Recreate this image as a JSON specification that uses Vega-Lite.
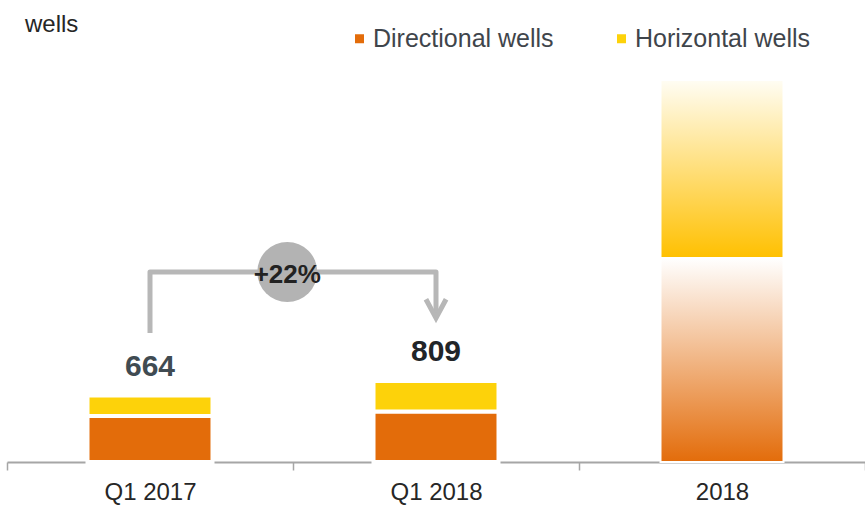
{
  "$schema": "https://vega.github.io/schema/vega-lite/v6.json",
  "width": 858,
  "height": 400,
  "autosize": {"type": "none"},
  "padding": {"left": 7, "top": 62, "right": 0, "bottom": 43},
  "title": {"text": "wells", "anchor": "start", "frame": "group", "orient": "top", "fontSize": 24, "fontWeight": "normal", "color": "#262626", "dx": 18, "offset": 0, "dy": 30, "baseline": "alphabetic"},
  "config": {"view": {"stroke": null}, "font": "Liberation Sans"},
  "datasets": {
    "bars": [
      {"period": "Q1 2017", "type": "Directional wells", "value": 460},
      {"period": "Q1 2017", "type": "Horizontal wells", "value": 204},
      {"period": "Q1 2018", "type": "Directional wells", "value": 505},
      {"period": "Q1 2018", "type": "Horizontal wells", "value": 304},
      {"period": "2018", "type": "Directional wells", "value": 2040},
      {"period": "2018", "type": "Horizontal wells", "value": 1780}
    ],
    "path": [
      {"period": "Q1 2017", "v": 1290, "o": 1},
      {"period": "Q1 2017", "v": 1900, "o": 2},
      {"period": "Q1 2018", "v": 1900, "o": 3},
      {"period": "Q1 2018", "v": 1460, "o": 4}
    ],
    "badge": [{"period": "Q1 2017", "v": 1900, "label": "+22%"}],
    "tip": [{"period": "Q1 2018", "v": 1440}]
  },
  "layer": [
    {
      "data": {"name": "bars"},
      "transform": [
        {"stack": "value", "groupby": ["period"], "sort": [{"field": "type", "order": "ascending"}], "as": ["v0", "v1"]},
        {"filter": "datum.period !== '2018'"}
      ],
      "mark": {"type": "bar", "size": 125, "stroke": "#FFFFFF", "strokeWidth": 4},
      "encoding": {
        "x": {"field": "period", "type": "nominal", "scale": {"domain": ["Q1 2017", "Q1 2018", "2018"], "paddingInner": 0, "paddingOuter": 0},
          "axis": {"title": null, "labelAngle": 0, "labelFontSize": 24, "labelColor": "#262626", "labelPadding": 10, "domainColor": "#A6A6A6", "domainWidth": 2, "tickColor": "#A6A6A6", "tickWidth": 1.5, "tickSize": 8, "tickBand": "extent"}},
        "y": {"field": "v1", "type": "quantitative", "scale": {"domain": [0, 4000]}, "axis": null},
        "y2": {"field": "v0"},
        "color": {"field": "type", "type": "nominal", "scale": {"domain": ["Directional wells", "Horizontal wells"], "range": ["#E36C0A", "#FDD20A"]},
          "legend": {"orient": "none", "legendX": 340, "legendY": -36, "direction": "horizontal", "title": null, "symbolType": "square", "symbolSize": 81, "symbolStrokeWidth": 0, "labelFontSize": 25, "labelColor": "#3F454B", "labelOffset": 1, "labelLimit": 0, "columnPadding": 55, "padding": 0}}
      }
    },
    {
      "data": {"name": "bars"},
      "transform": [
        {"stack": "value", "groupby": ["period"], "sort": [{"field": "type", "order": "ascending"}], "as": ["v0", "v1"]},
        {"filter": "datum.period === '2018' && datum.type === 'Directional wells'"}
      ],
      "mark": {"type": "bar", "size": 123, "stroke": "#FFFFFF", "strokeWidth": 2,
        "fill": {"gradient": "linear", "x1": 0, "y1": 1, "x2": 0, "y2": 0, "stops": [{"offset": 0, "color": "#E36C0A"}, {"offset": 1, "color": "#FFFFFF"}]}},
      "encoding": {
        "x": {"field": "period", "type": "nominal", "scale": {"domain": ["Q1 2017", "Q1 2018", "2018"]}},
        "y": {"field": "v1", "type": "quantitative", "scale": {"domain": [0, 4000]}},
        "y2": {"field": "v0"}
      }
    },
    {
      "data": {"name": "bars"},
      "transform": [
        {"stack": "value", "groupby": ["period"], "sort": [{"field": "type", "order": "ascending"}], "as": ["v0", "v1"]},
        {"filter": "datum.period === '2018' && datum.type === 'Horizontal wells'"}
      ],
      "mark": {"type": "bar", "size": 123, "stroke": "#FFFFFF", "strokeWidth": 2,
        "fill": {"gradient": "linear", "x1": 0, "y1": 1, "x2": 0, "y2": 0, "stops": [{"offset": 0, "color": "#FFC000"}, {"offset": 1, "color": "#FFFDF4"}]}},
      "encoding": {
        "x": {"field": "period", "type": "nominal", "scale": {"domain": ["Q1 2017", "Q1 2018", "2018"]}},
        "y": {"field": "v1", "type": "quantitative", "scale": {"domain": [0, 4000]}},
        "y2": {"field": "v0"}
      }
    },
    {
      "data": {"name": "bars"},
      "transform": [
        {"filter": "datum.period !== '2018'"},
        {"aggregate": [{"op": "sum", "field": "value", "as": "total"}], "groupby": ["period"]}
      ],
      "mark": {"type": "text", "fontSize": 30, "fontWeight": "bold", "baseline": "alphabetic", "align": "center", "dy": -20},
      "encoding": {
        "x": {"field": "period", "type": "nominal", "scale": {"domain": ["Q1 2017", "Q1 2018", "2018"]}},
        "y": {"field": "total", "type": "quantitative", "scale": {"domain": [0, 4000]}},
        "text": {"field": "total", "type": "quantitative"},
        "color": {"condition": {"test": "datum.period === 'Q1 2017'", "value": "#404B52"}, "value": "#222528"}
      }
    },
    {
      "data": {"name": "path"},
      "mark": {"type": "line", "stroke": "#B7B7B7", "strokeWidth": 5, "strokeJoin": "round"},
      "encoding": {
        "x": {"field": "period", "type": "nominal", "scale": {"domain": ["Q1 2017", "Q1 2018", "2018"]}},
        "y": {"field": "v", "type": "quantitative", "scale": {"domain": [0, 4000]}},
        "order": {"field": "o", "type": "quantitative"}
      }
    },
    {
      "data": {"name": "tip"},
      "mark": {"type": "point", "shape": "M-0.42,-0.78L0,0L0.42,-0.78", "size": 2304, "filled": false, "stroke": "#B7B7B7", "strokeWidth": 5, "opacity": 1},
      "encoding": {
        "x": {"field": "period", "type": "nominal", "scale": {"domain": ["Q1 2017", "Q1 2018", "2018"]}},
        "y": {"field": "v", "type": "quantitative", "scale": {"domain": [0, 4000]}}
      }
    },
    {
      "data": {"name": "badge"},
      "mark": {"type": "point", "shape": "circle", "size": 3600, "filled": true, "color": "#B3B3B3", "opacity": 1},
      "encoding": {
        "x": {"field": "period", "type": "nominal", "bandPosition": 0.98, "scale": {"domain": ["Q1 2017", "Q1 2018", "2018"]}},
        "y": {"field": "v", "type": "quantitative", "scale": {"domain": [0, 4000]}}
      }
    },
    {
      "data": {"name": "badge"},
      "mark": {"type": "text", "fontSize": 26, "fontWeight": "bold", "color": "#222222", "baseline": "middle", "align": "center", "dy": 3},
      "encoding": {
        "x": {"field": "period", "type": "nominal", "bandPosition": 0.98, "scale": {"domain": ["Q1 2017", "Q1 2018", "2018"]}},
        "y": {"field": "v", "type": "quantitative", "scale": {"domain": [0, 4000]}},
        "text": {"field": "label", "type": "nominal"}
      }
    }
  ]
}
